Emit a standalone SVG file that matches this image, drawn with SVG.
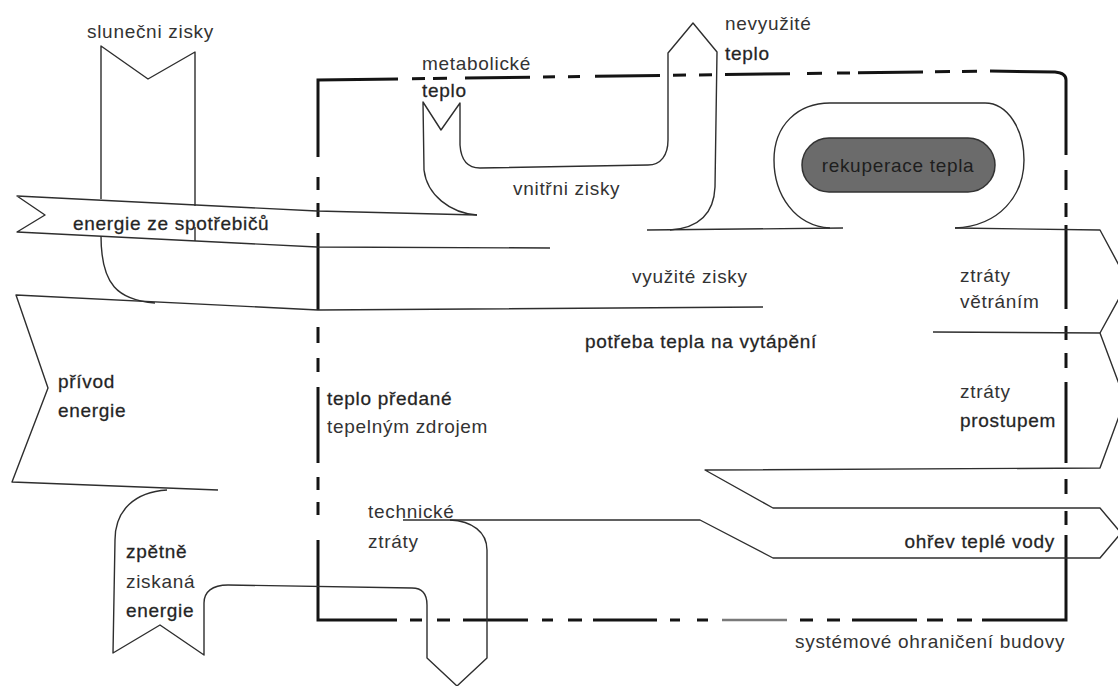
<svg xmlns="http://www.w3.org/2000/svg" width="1118" height="686" viewBox="0 0 1118 686">
<style>
.f{fill:none;stroke:#2e2e2e;stroke-width:1.4;stroke-linejoin:round}
.bd{fill:none;stroke:#141414;stroke-width:3;stroke-linecap:butt}
.t{font-family:"Liberation Sans",Arial,sans-serif;font-size:19px;letter-spacing:0.7px;fill:#333}
.b{stroke:#333;stroke-width:0.3;fill:#222}
</style>
<rect width="1118" height="686" fill="#fff"/>

<g id="boundary">
<path class="bd" d="M318,157 L318,80 L398,78.9 M412,78.7 L425,78.6 M433,78.5 L447,78.3 M465,78 L530,77.2 M543,77 L555,76.8 M568,76.7 L580,76.5 M595,76.3 L660,75.4 M673,75.2 L686,75.1 M699,74.9 L712,74.7 M725,74.5 L790,73.7 M807,73.4 L822,73.2 M837,73 L850,72.9 M858,72.8 L923,71.9 M935,71.7 L950,71.5 M962,71.4 L977,71.2 M990,71 L1055,72 Q1066,73 1066,80 L1066,155 M1066,170 L1066,190 M1066,203 L1066,217 M1066,225 L1066,309 M1066,326 L1066,340 M1066,353 L1066,368 M1066,382 L1066,463 M1066,479 L1066,494 M1066,511 L1066,525 M1066,535 L1066,620 L982,620 M972,620 L957,620 M943,620 L927,620 M917,620 L852,620 M840,620 L827,620 M813,620 L800,620 M708,620 L697,620 M680,620 L670,620 M657,620 L593,620 M582,620 L568,620 M553,620 L542,620 M528,620 L463,620 M450,620 L437,620 M422,620 L410,620 M397,620 L318,620 L318,540 M318,515 L318,502 M318,490 L318,477 M318,463 L318,387 M318,372 L318,358 M318,343 L318,327 M318,310 L318,233 M318,217 L318,203 M318,190 L318,177"/>
<path d="M787,620 L722,620" stroke="#7a7a7a" stroke-width="2.4" fill="none"/>
<text class="t" x="795" y="648">systémové ohraničení budovy</text>
</g>

<g id="flows">
<path class="f" d="M101,199 L101,46 L148,79 L195,52 L195,206"/>
<path class="f" d="M195,227 L195,241"/>
<path class="f" d="M101,236 C101,285 118,300 155,303"/>
<path class="f" d="M477,215 L317,211 L17,196 L45,215 L17,232 L317,247 L550,248"/>
<path class="f" d="M763,307 L318,310 L16,295 L48,388 L12,482 L218,490"/>
<path class="f" d="M167,490 C135,492 115,510 115,540 L113,653 L160,625 L204,655 L204,603 C204,592 212,585 228,585 L412,588 C422,588 427,594 427,605 L427,658 L457,686 L487,658 L487,550 C487,532 472,521 450,520"/>
<path class="f" d="M403,520 L700,520 L773,558 L1100,558 L1121,533 L1100,508 L773,508 L705,470 L1100,468 L1125,400 L1100,333 L933,332"/>
<path class="f" d="M1100,333 L1128,282 L1100,230 L955,228"/>
<path class="f" d="M477,215 C450,213 427,195 424,170 L423,102 L441,130 L460,103 L460,145 C461,160 468,168 480,168 L648,165 C661,165 668,155 668,140 L668,53 L693,23 L717,52 L715,187 C714,212 700,228 670,230"/>
<path class="f" d="M647,230 L843,228"/>
<path class="f" d="M830,228 C795,226 774,195 774,160 C774,125 798,103 830,103 L985,103 C1008,103 1024,130 1024,160 C1024,195 1000,226 955,228"/>
</g>

<g id="slunecni-zisky"><text class="t" x="87" y="38">slunečni zisky</text></g>
<g id="metabolicke-teplo"><text class="t" x="422" y="70">metabolické</text><text class="t b" x="422" y="97">teplo</text></g>
<g id="nevyuzite-teplo"><text class="t" x="725" y="30">nevyužité</text><text class="t b" x="725" y="60">teplo</text></g>
<g id="vnitrni-zisky"><text class="t" x="513" y="195">vnitřni zisky</text></g>
<g id="rekuperace-tepla">
<rect x="802" y="138" width="193" height="54" rx="27" fill="#6b6b6b" stroke="#333" stroke-width="1.5"/>
<text class="t" x="898" y="172" text-anchor="middle" style="fill:#1e1e1e">rekuperace tepla</text>
</g>
<g id="energie-ze-spotrebicu"><text class="t b" x="73" y="230">energie ze spotřebičů</text></g>
<g id="vyuzite-zisky"><text class="t" x="632" y="283">využité zisky</text></g>
<g id="ztraty-vetranim"><text class="t" x="960" y="282">ztráty</text><text class="t" x="960" y="308">větráním</text></g>
<g id="potreba-tepla"><text class="t b" x="585" y="348">potřeba tepla na vytápění</text></g>
<g id="privod-energie"><text class="t b" x="58" y="388">přívod</text><text class="t b" x="58" y="417">energie</text></g>
<g id="teplo-predane"><text class="t b" x="327" y="405">teplo předané</text><text class="t" x="327" y="433">tepelným zdrojem</text></g>
<g id="ztraty-prostupem"><text class="t" x="960" y="398">ztráty</text><text class="t b" x="960" y="427">prostupem</text></g>
<g id="technicke-ztraty"><text class="t" x="368" y="518">technické</text><text class="t" x="368" y="548">ztráty</text></g>
<g id="zpetne-ziskana-energie"><text class="t b" x="126" y="558">zpětně</text><text class="t" x="126" y="588">ziskaná</text><text class="t b" x="126" y="617">energie</text></g>
<g id="ohrev-teple-vody"><text class="t b" x="1055" y="548" text-anchor="end">ohřev teplé vody</text></g>
</svg>
